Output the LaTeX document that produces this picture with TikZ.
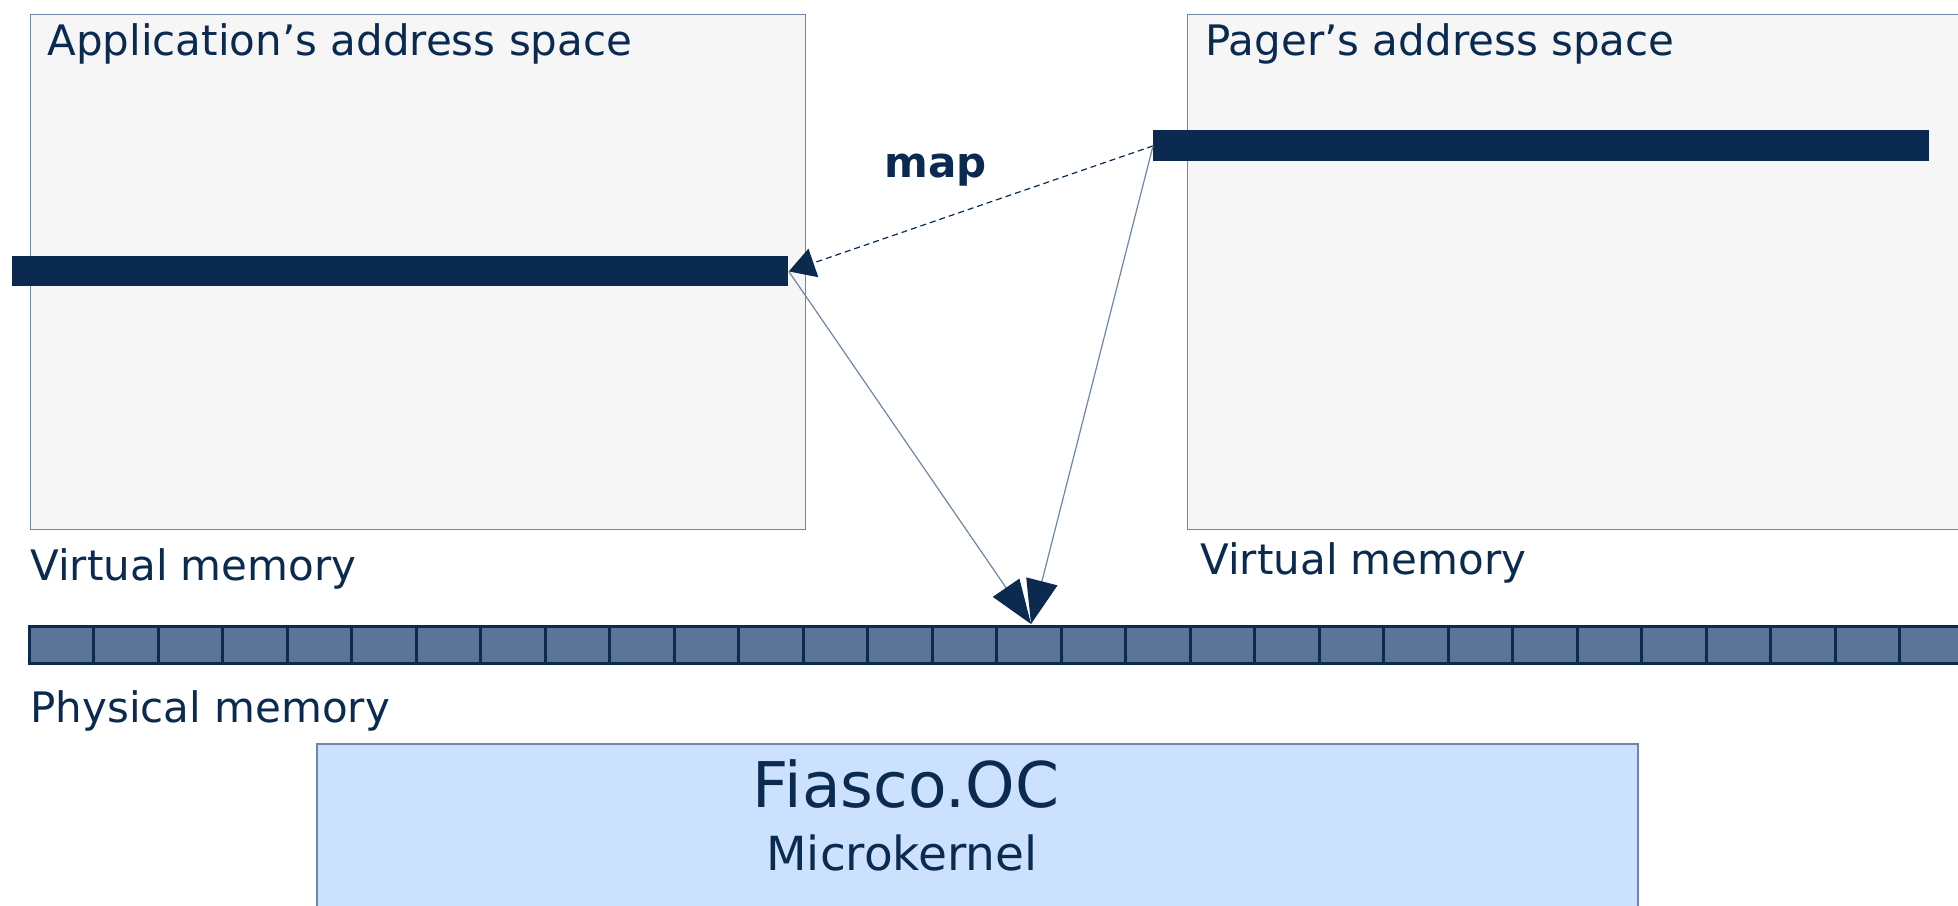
\documentclass[tikz,border=0pt]{standalone}
\usepackage{fontspec}
\setmainfont{DejaVu Sans}
\usetikzlibrary{arrows.meta}
\definecolor{navy}{HTML}{0B2A50}
\definecolor{frameblue}{HTML}{6F86A6}
\definecolor{spacegray}{HTML}{F6F6F6}
\definecolor{cellblue}{HTML}{5B7599}
\definecolor{kernelblue}{HTML}{CCE1FD}

\begin{document}
\begin{tikzpicture}
[x=0.5pt,y=-0.5pt,%
  spaceDecorate/.style={draw=frameblue,fill=spacegray,line width=0.6pt,inner sep=0pt,
    anchor=north west,minimum width=387.5pt,minimum height=257.5pt},%
  barDecorate/.style={fill=navy,inner sep=0pt,anchor=north west,minimum width=388pt,minimum height=15pt},%
  cellDecorate/.style={draw=navy,fill=cellblue,line width=1.5pt,inner sep=0pt,
    anchor=north west,minimum width=32.25pt,minimum height=18.5pt},%
  kernelDecorate/.style={draw=frameblue,fill=kernelblue,line width=0.8pt,inner sep=0pt,
    anchor=north west,minimum width=660.5pt,minimum height=90pt},%
  textDecorate/.style={inner sep=0pt,anchor=base west,text=navy,font=\fontsize{21pt}{25pt}\selectfont},%
  arrowDecorate/.style={draw=frameblue,line width=0.6pt,-{Triangle[length=22pt,width=16pt,fill=navy,color=navy]}}]
\useasboundingbox (0,0) rectangle (1958,905);
%% address spaces
\node (app) [spaceDecorate] at (30,14) {};
\node (pager) [spaceDecorate,minimum width=394pt] at (1187,14) {};
\node (apptitle) [textDecorate] at (47,55) {Application’s address space};
\node (pagertitle) [textDecorate] at (1205,55) {Pager’s address space};
%% mapped regions
\node (appbar) [barDecorate] at (12,256) {};
\node (pagerbar) [barDecorate,minimum height=15.5pt] at (1153,130) {};
%% labels
\node (appvirt) [textDecorate] at (30,580) {Virtual memory};
\node (pagervirt) [textDecorate] at (1200,574) {Virtual memory};
\node (physlabel) [textDecorate] at (30,722) {Physical memory};
%% physical memory frames
\foreach \i in {1,...,30}
{
  \node (cell\i) [cellDecorate] at ({27.5+(\i-1)*64.5},625) {};
}
\coordinate (hit) at (1031,624);
%% kernel
\node (kernel) [kernelDecorate] at (316,743) {};
\node (kernelname) [textDecorate,anchor=base,font=\fontsize{31.5pt}{36pt}\selectfont] at (906,807) {Fiasco.OC};
\node (kernelsub) [textDecorate,anchor=base,font=\fontsize{23.5pt}{28pt}\selectfont] at (902,870) {Microkernel};
%% arrows
\draw [draw=navy,line width=0.6pt,dash pattern=on 3pt off 2pt,
  -{Triangle[length=13pt,width=15pt,fill=navy,color=navy]}] (pagerbar.west) -- (appbar.east);
\node (maplabel) [textDecorate,font=\fontsize{21pt}{25pt}\selectfont\bfseries] at (884,177) {map};
\path
\foreach \startnode in {appbar.east, pagerbar.west}
{
  (\startnode) edge[arrowDecorate] (hit)
};
\end{tikzpicture}
\end{document}
